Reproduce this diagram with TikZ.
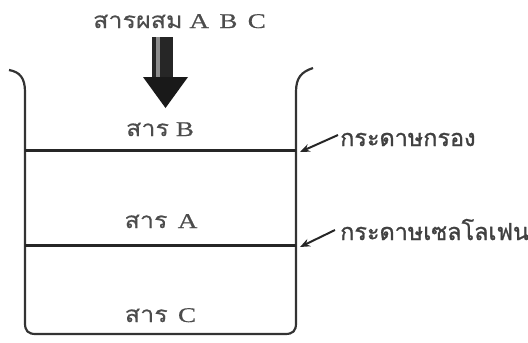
\documentclass[tikz,border=0pt]{standalone}
\usepackage{fontspec}
\setmainfont{Liberation Serif}[FakeStretch=1.3,FakeBold=0.6]
\newfontfamily\thaifont[Script=Thai,FakeStretch=1.12,FakeBold=0.4]{Loma}
\newfontfamily\thaicall[Script=Thai,FakeBold=1.2]{Loma}
\newcommand\thbig[1]{{\thaifont\fontsize{22.5}{27}\selectfont #1}}
\usetikzlibrary{arrows.meta}
\tikzset{
  wall/.style={line width=2.2pt, draw=black!80},
  layer/.style={line width=3pt, draw=black!85},
  lbl/.style={font=\fontsize{21}{25}\selectfont, text=black!70, inner sep=0pt, anchor=base},
  calltext/.style={font=\thaicall\fontsize{23.5}{28}\selectfont, text=black!75, inner sep=0pt, anchor=base west},
  callout/.style={line width=2pt, draw=black!85, -{Stealth[length=10pt,width=8pt]}},
}
\begin{document}
\begin{tikzpicture}[x=1bp,y=-1bp]
\useasboundingbox (0,0) rectangle (528,342);
% beaker
\draw[wall] (9,70) .. controls (20,72) and (25,78) .. (25,92) -- (25,323) .. controls (25,331) and (28,334) .. (36,334) -- (285,334) .. controls (293,334) and (296,331) .. (296,323) -- (296,92) .. controls (296,78) and (301,72) .. (313,68);
% layers
\coordinate (fL) at (25,150); \coordinate (fR) at (296,150);
\coordinate (cL) at (25,245); \coordinate (cR) at (296,245);
\draw[layer] (fL) -- (fR);
\draw[layer] (cL) -- (cR);
% title and big arrow
\node[lbl] (mix) at (179.5,28) {\thbig{สารผสม} A\, B\, C};
\fill[black!85] (152,37) rectangle (173,78);
\fill[black!45] (156,37) rectangle (160,78);
\fill[black!90] (143,77) -- (188,77) -- (165.5,108) -- cycle;
% substance labels
\node[lbl] (sB) at (160,136) {\thbig{สาร} B};
\node[lbl] (sA) at (161,228) {\thbig{สาร}\, A};
\node[lbl] (sC) at (160.5,322) {\thbig{สาร}\, C};
% callouts
\node[calltext] (filt) at (340,146) {กระดาษกรอง};
\node[calltext] (cell) at (340,240) {กระดาษเซลโลเฟน};
\coordinate (fT) at (338,135);
\coordinate (cT) at (335,230);
\draw[callout] (fT) -- (300,152);
\draw[callout] (cT) -- (300,247);
\end{tikzpicture}
\end{document}
